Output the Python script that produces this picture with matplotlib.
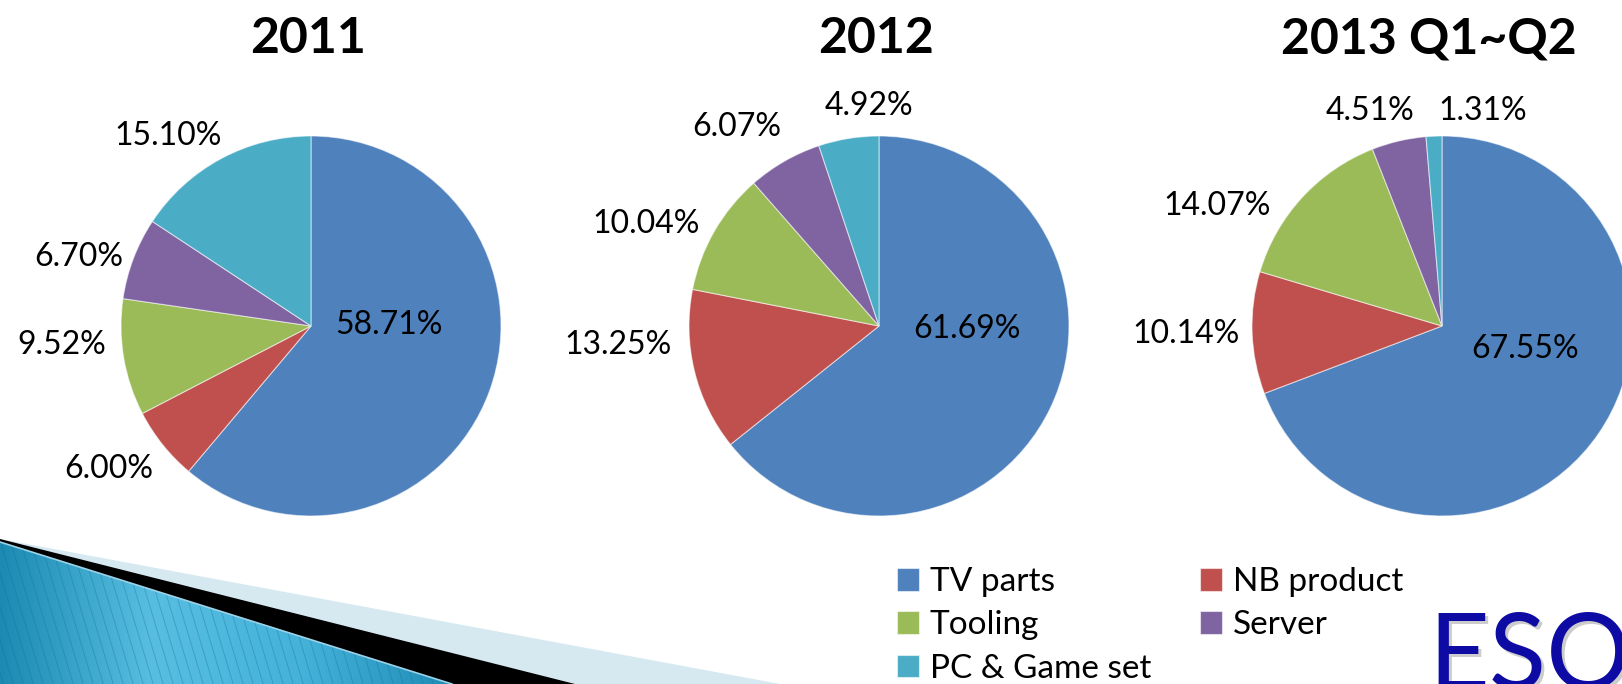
import numpy as np
import matplotlib
matplotlib.use('Agg')
from matplotlib import pyplot as plt
from matplotlib.colors import LinearSegmentedColormap
from matplotlib.patches import Polygon
from matplotlib.collections import LineCollection

plt.rcParams['font.family'] = ['Lato', 'DejaVu Sans']

# Daten
categories = ['TV parts', 'NB product', 'Tooling', 'Server', 'PC & Game set']
titles = ['2011', '2012', '2013 Q1~Q2']
share_2011 = [58.71, 6.00, 9.52, 6.70, 15.10]
share_2012 = [61.69, 13.25, 10.04, 6.07, 4.92]
share_2013 = [67.55, 10.14, 14.07, 4.51, 1.31]
shares = [share_2011, share_2012, share_2013]

colors = ['#4F81BD', '#C0504D', '#9BBB59', '#8064A2', '#4BACC6']

W, H = 1622, 684
fig = plt.figure(figsize=(W / 100, H / 100), dpi=100)
bg = fig.add_axes([0, 0, 1, 1])
bg.set_xlim(0, W)
bg.set_ylim(H, 0)  # Pixel-Koordinaten, Ursprung oben links
bg.axis('off')

# Layout: Mitte x, Mitte y, Radius (Pixel)
pie_boxes = [(311, 326, 190), (879, 326, 190), (1442, 326, 190)]
title_pos = [(308, 53), (876, 53), (1429, 53)]
# Lage der Beschriftungen relativ zur Kreismitte (Pixel, Mitte der Ziffern)
label_offsets = [
    [(78, -3), (-202, 141), (-249, 17), (-232, -71), (-143, -192)],
    [(88, 1), (-261, 17), (-233, -104), (-142, -201), (-10, -222)],
    [(83, 21), (-256, 6), (-225, -122), (-72, -217), (41, -217)],
]
label_size = 23
digit_h = 0.7165 * label_size * 100 / 72

wedges_first = None
for i, vals in enumerate(shares):
    cx, cy, r = pie_boxes[i]
    ax = fig.add_axes([(cx - r) / W, (H - cy - r) / H, 2 * r / W, 2 * r / H])
    wedges, _ = ax.pie(vals, colors=colors, startangle=90, counterclock=False,
                       radius=1, wedgeprops=dict(edgecolor=(1, 1, 1, 0.55), linewidth=0.8))
    ax.set_xlim(-1, 1)
    ax.set_ylim(-1, 1)
    ax.set_aspect('auto')
    ax.axis('off')
    if wedges_first is None:
        wedges_first = wedges

    for j, v in enumerate(vals):
        dx, dy = label_offsets[i][j]
        fig.text(cx + dx, cy + dy + digit_h / 2, f'{v:.2f}%', fontsize=label_size,
                 ha='center', va='baseline', transform=bg.transData, zorder=5)

    tx, ty = title_pos[i]
    fig.text(tx, ty, titles[i], fontsize=36, fontweight='bold', ha='center',
             va='baseline', transform=bg.transData)

# Legende (zeilenweise wie im Original)
order = [0, 2, 4, 1, 3]
fig.legend([wedges_first[k] for k in order], [categories[k] for k in order],
           loc='upper left', bbox_to_anchor=(897, 567), bbox_transform=bg.transData,
           ncol=2, frameon=False, fontsize=24, borderpad=0, borderaxespad=0,
           handlelength=0.66, handleheight=0.66, handletextpad=0.33,
           labelspacing=0.4, columnspacing=1.45)

# Dekoration unten links
light = Polygon([(0, 539), (780, 684), (0, 684)], closed=True, color='#D6E9F1', lw=0)
black = Polygon([(0, 539), (575, 684), (0, 684)], closed=True, color='black', lw=0)
blue = Polygon([(0, 542), (452, 684), (0, 684)], closed=True, facecolor='none', lw=0)
bg.add_patch(light)
bg.add_patch(black)
bg.add_patch(blue)
cmap = LinearSegmentedColormap.from_list('sw', ['#1C8AB2', '#57BEE1', '#45B2DA', '#1E8DB5'])
grad = np.linspace(0, 1, 256).reshape(1, -1)
im = bg.imshow(grad, cmap=cmap, extent=(0, 452, 684, 542), aspect='auto', zorder=2)
im.set_clip_path(blue)
bg.set_xlim(0, W)
bg.set_ylim(H, 0)
segs = [[(x0, 540), (x0 + 0.3 * 144, 684)] for x0 in np.arange(-60, 460, 10)]
lc = LineCollection(segs, colors='#156f92', linewidths=0.7, alpha=0.35, zorder=3)
bg.add_collection(lc)
lc.set_clip_path(blue)
bg.plot([0, 452], [542, 684], color='#9BD2E8', lw=1.2, zorder=4)

# ESO-Schriftzug
fig.text(1431, 692, 'ESO', fontsize=76, color='#9a9a9a', alpha=0.5, ha='left',
         va='baseline', transform=bg.transData, zorder=4)
fig.text(1428, 689, 'ESO', fontsize=76, color='#0D0BA3', ha='left',
         va='baseline', transform=bg.transData, zorder=5)

fig.savefig('out.png', dpi=100)
